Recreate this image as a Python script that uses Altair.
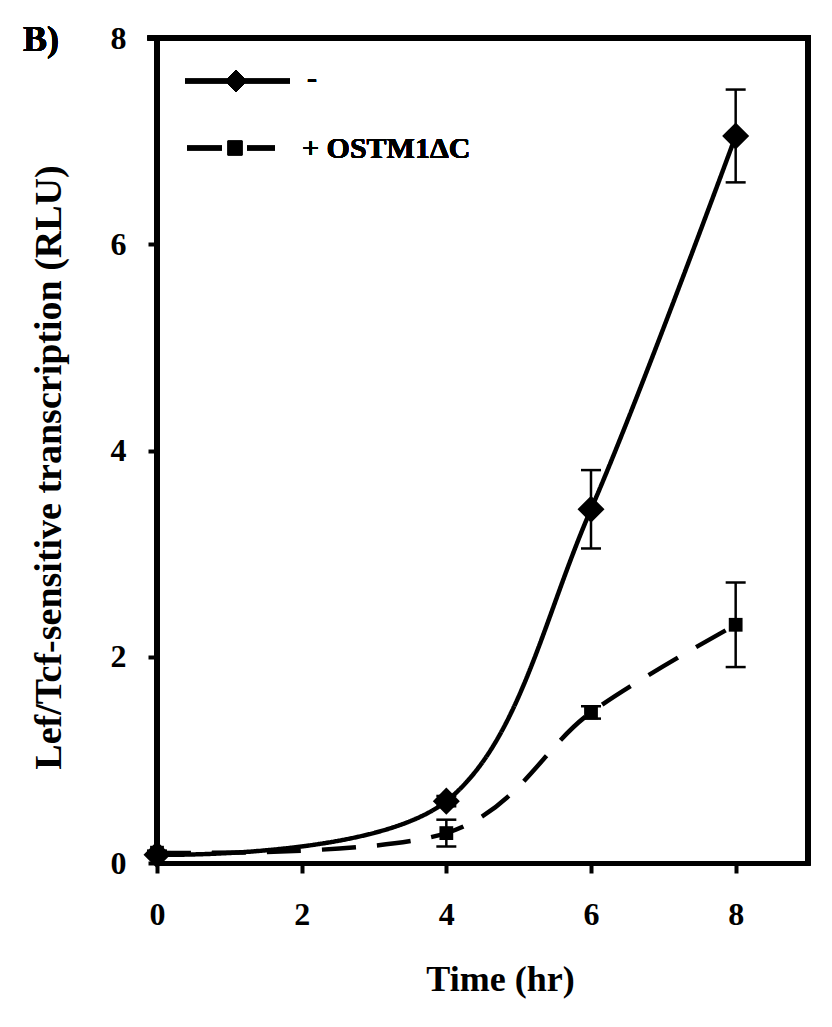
import altair as alt
import pandas as pd

# ---- data ----
time_hr = [0, 4, 6, 8]
series_names = ["-", "+ OSTM1ΔC"]
ctrl_mean = [0.08, 0.60, 3.43, 7.05]
ctrl_err = [0.02, 0.05, 0.38, 0.45]
ostm_mean = [0.10, 0.29, 1.46, 2.31]
ostm_err = [0.02, 0.13, 0.06, 0.41]
x_ticks = [0, 2, 4, 6, 8]
y_ticks = [0, 2, 4, 6, 8]

rows = []
for name, means, errs in [(series_names[0], ctrl_mean, ctrl_err),
                          (series_names[1], ostm_mean, ostm_err)]:
    for t, m, e in zip(time_hr, means, errs):
        rows.append({"series": name, "time": t, "value": m,
                     "lo": m - e, "hi": m + e})
df = pd.DataFrame(rows)

FONT = "Liberation Serif"
W, H = 651, 825
FRAME = 5

xs = alt.Scale(domain=[0, 9], nice=False, zero=False)
ys = alt.Scale(domain=[0, 8], nice=False, zero=False)

x_axis = alt.Axis(values=x_ticks, title="Time (hr)", labelFlush=False,
                  labelOverlap=False, grid=False, format="d",
                  labelFont=FONT, labelFontSize=32, labelFontWeight="bold",
                  labelPadding=26, tickSize=10, tickWidth=4, domainWidth=FRAME,
                  domainColor="black", tickColor="black", labelColor="black",
                  titleFont=FONT, titleFontSize=36, titleFontWeight="bold",
                  titleX=343, titleY=127, titleAlign="center",
                  titleBaseline="alphabetic", titleColor="black")
y_axis = alt.Axis(values=y_ticks, title="Lef/Tcf-sensitive transcription (RLU)",
                  labelFlush=False, labelOverlap=False, grid=False, format="d",
                  labelFont=FONT, labelFontSize=32, labelFontWeight="bold",
                  labelPadding=22, tickSize=9, tickWidth=4, domainWidth=FRAME,
                  domainColor="black", tickColor="black", labelColor="black",
                  titleFont=FONT, titleFontSize=38, titleFontWeight="bold",
                  titleAngle=-90, titleX=-97, titleY=429, titleAlign="center",
                  titleBaseline="alphabetic", titleColor="black")

base = alt.Chart(df)

lines = base.mark_line(interpolate="cardinal", color="black", strokeWidth=4.5).encode(
    x=alt.X("time:Q", scale=xs, axis=x_axis),
    y=alt.Y("value:Q", scale=ys, axis=y_axis),
    detail="series:N",
    strokeDash=alt.StrokeDash("series:N", legend=None,
                              scale=alt.Scale(domain=series_names,
                                              range=[[1, 0], [34, 21]])),
)

err_rule = base.mark_rule(color="black", strokeWidth=2.5).encode(
    x=alt.X("time:Q", scale=xs), y=alt.Y("lo:Q", scale=ys), y2="hi:Q")
cap_lo = base.mark_tick(orient="horizontal", color="black", size=20,
                        thickness=2.5, opacity=1).encode(
    x=alt.X("time:Q", scale=xs), y=alt.Y("lo:Q", scale=ys))
cap_hi = base.mark_tick(orient="horizontal", color="black", size=20,
                        thickness=2.5, opacity=1).encode(
    x=alt.X("time:Q", scale=xs), y=alt.Y("hi:Q", scale=ys))

points = base.mark_point(filled=True, color="black", opacity=1).encode(
    x=alt.X("time:Q", scale=xs),
    y=alt.Y("value:Q", scale=ys),
    shape=alt.Shape("series:N", legend=None,
                    scale=alt.Scale(domain=series_names, range=["diamond", "square"])),
    size=alt.Size("series:N", legend=None,
                  scale=alt.Scale(domain=series_names, range=[730, 190])),
)

# ---- plot frame (top / right / left edges) ----
frame_top = alt.Chart(df).mark_rule(color="black", strokeWidth=FRAME,
                                    strokeCap="square").encode(
    x=alt.value(-7), x2=alt.value(W), y=alt.value(0))
frame_right = alt.Chart(df).mark_rule(color="black", strokeWidth=FRAME,
                                      strokeCap="square").encode(
    x=alt.value(W), y=alt.value(0), y2=alt.value(H))
frame_left = alt.Chart(df).mark_rule(color="black", strokeWidth=FRAME).encode(
    x=alt.value(0), y=alt.value(0), y2=alt.value(H))

# ---- manual legend (inside plot, top-left) ----
leg_line1 = alt.Chart(df).mark_rule(color="black", strokeWidth=4.5).encode(
    x=alt.value(28), x2=alt.value(133), y=alt.value(43))
leg_pt1 = alt.Chart(df).mark_point(shape="diamond", filled=True, color="black",
                                   size=480, opacity=1).encode(
    x=alt.value(79), y=alt.value(43))
leg_txt1 = alt.Chart(df).mark_text(text=series_names[0], font=FONT, fontSize=30,
                                   fontWeight="bold", align="left",
                                   baseline="middle", color="black").encode(
    x=alt.value(150), y=alt.value(41))
leg_line2 = alt.Chart(df).mark_rule(color="black", strokeWidth=4.5,
                                    strokeDash=[35, 25]).encode(
    x=alt.value(30), x2=alt.value(118), y=alt.value(110))
leg_pt2 = alt.Chart(df).mark_point(shape="square", filled=True, color="black",
                                   size=210, opacity=1).encode(
    x=alt.value(78), y=alt.value(110))
leg_txt2 = alt.Chart(df).mark_text(text=series_names[1], font=FONT, fontSize=30,
                                   fontWeight="bold", align="left",
                                   baseline="middle", color="black").encode(
    x=alt.value(145), y=alt.value(111))

panel_label = alt.Chart(df).mark_text(text="B)", font=FONT, fontSize=36,
                                      fontWeight="bold", align="left",
                                      baseline="alphabetic", color="black").encode(
    x=alt.value(-134), y=alt.value(13))

chart = alt.layer(
    frame_top, frame_right, frame_left,
    lines, err_rule, cap_lo, cap_hi, points,
    leg_line1, leg_pt1, leg_txt1, leg_line2, leg_pt2, leg_txt2, panel_label,
).properties(
    width=W, height=H,
    autosize=alt.AutoSizeParams(type="none"),
    padding={"left": 149, "top": 30, "right": 16, "bottom": 150},
).configure_view(
    stroke=None
).configure(background="white")

chart.save("out.html", embed_options={"renderer": "svg", "actions": False})
